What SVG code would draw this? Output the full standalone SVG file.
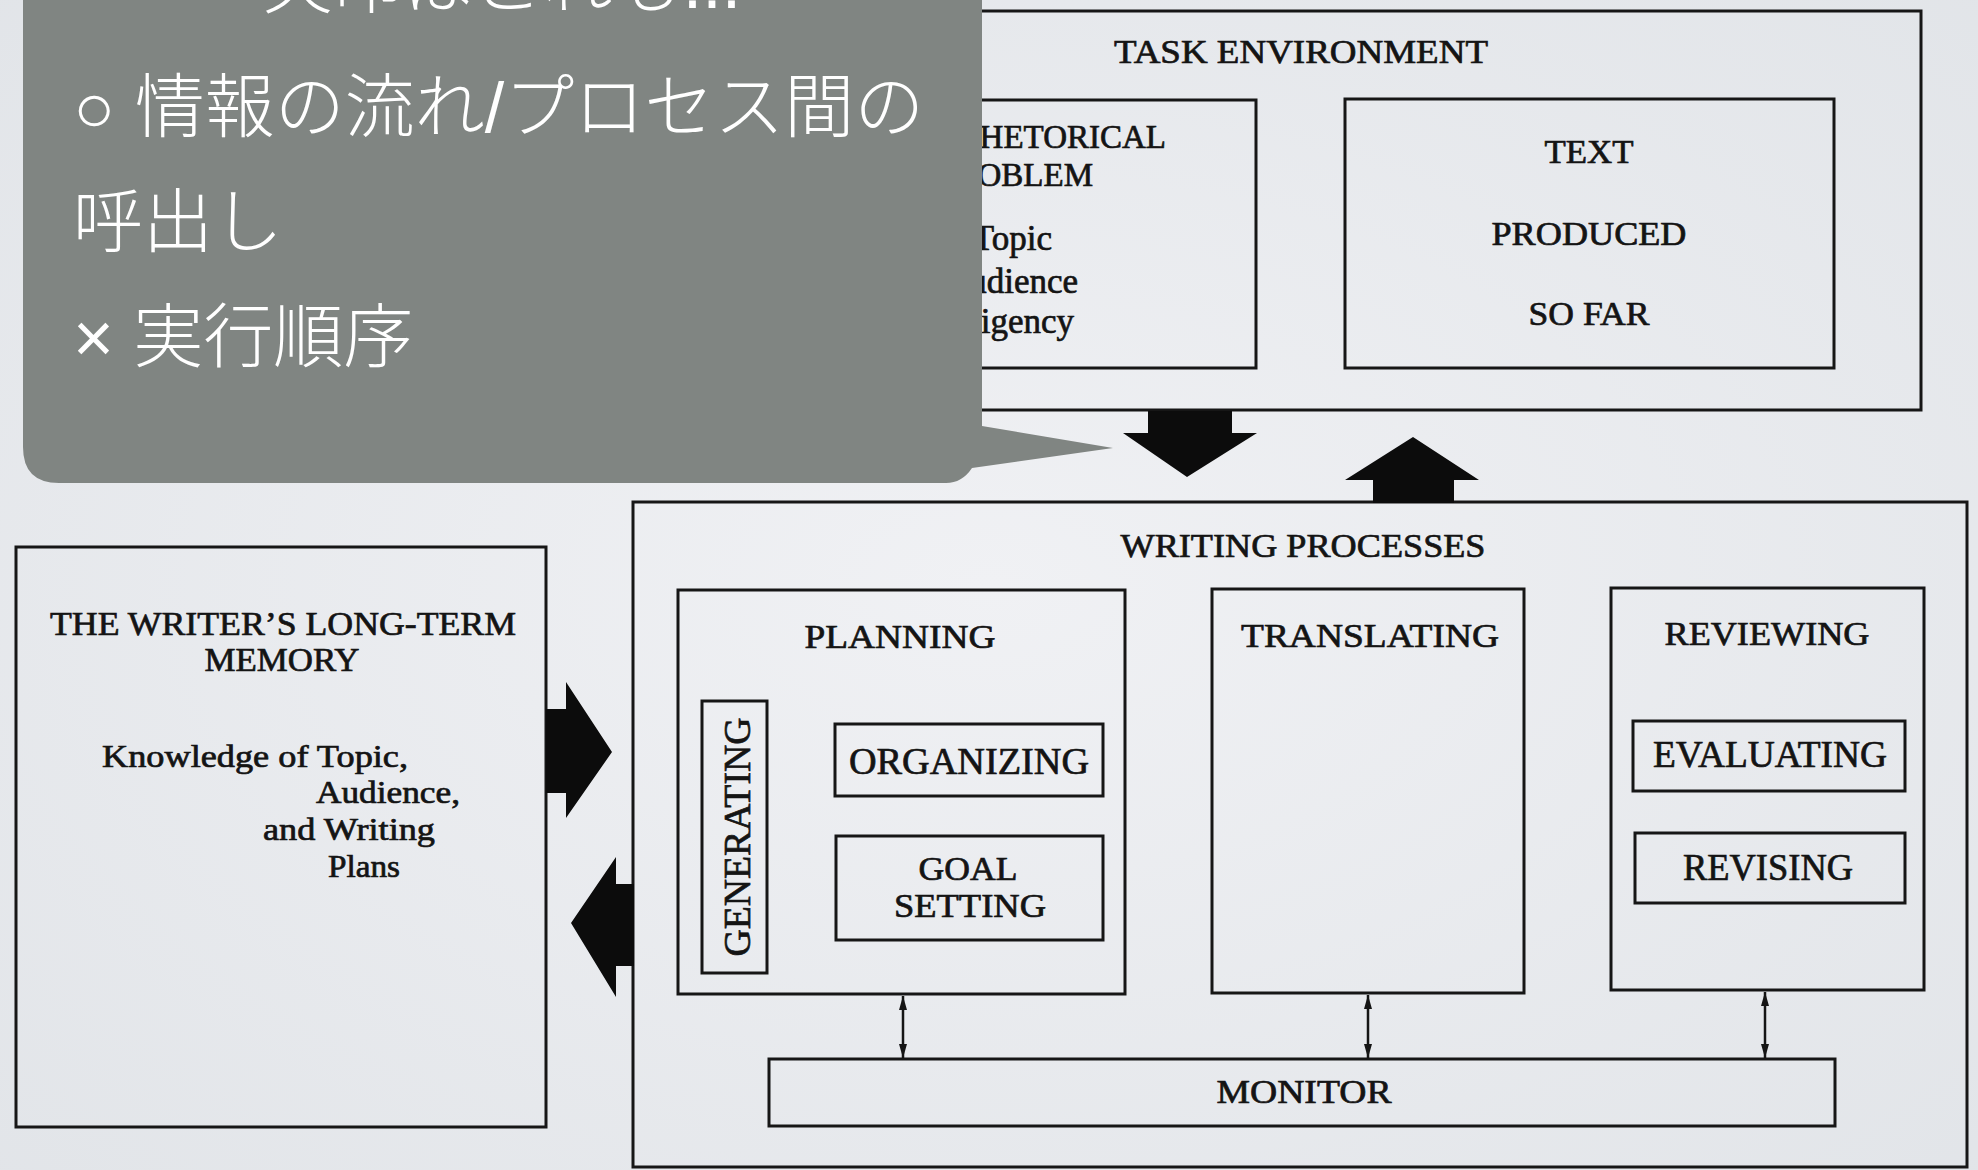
<svg xmlns="http://www.w3.org/2000/svg" width="1978" height="1170" viewBox="0 0 1978 1170">
  <defs>
    <radialGradient id="bg" cx="50%" cy="50%" r="75%">
      <stop offset="0" stop-color="#f0f1f4"/>
      <stop offset="1" stop-color="#e1e4e8"/>
    </radialGradient>
    <marker id="ah" viewBox="0 0 14 8" refX="14" refY="4" markerWidth="14" markerHeight="8" markerUnits="userSpaceOnUse" orient="auto-start-reverse">
      <path d="M0,0 L14,4 L0,8 z" fill="#151515"/>
    </marker>
    <style>
      .box { fill: none; stroke: #161616; stroke-width: 3; }
      .t { font-family: "Liberation Serif", "DejaVu Serif", serif; fill: #141414; stroke: #141414; stroke-width: 0.7; }
      .cap { font-size: 34px; }
      .lab { font-size: 37px; }
      .low { font-size: 31px; }
      .mid { text-anchor: middle; }
      .end { text-anchor: end; }
      .big { fill: #0c0c0c; }
      .link { stroke: #151515; stroke-width: 2.5; fill: none; }
      .jp { font-family: "Liberation Sans", "Noto Sans CJK JP", sans-serif; font-weight: 300; fill: #ffffff; font-size: 70px; }
    </style>
  </defs>

  <rect x="0" y="0" width="1978" height="1170" fill="url(#bg)"/>

  <!-- Task environment -->
  <g id="task-environment">
    <rect class="box" x="633" y="11" width="1288" height="399"/>
    <text class="t cap mid" x="1301" y="63" textLength="374" lengthAdjust="spacingAndGlyphs">TASK ENVIRONMENT</text>
  </g>
  <g id="rhetorical-problem">
    <rect class="box" x="700" y="100" width="556" height="268"/>
    <text class="t end" x="1166" y="148" font-size="33">RHETORICAL</text>
    <text class="t end" x="1093" y="186" font-size="33">PROBLEM</text>
    <text class="t end" x="1052" y="250" font-size="35">Topic</text>
    <text class="t end" x="1078" y="293" font-size="35">Audience</text>
    <text class="t end" x="1074" y="333" font-size="35">Exigency</text>
  </g>
  <g id="text-produced">
    <rect class="box" x="1345" y="99" width="489" height="269"/>
    <text class="t cap mid" x="1589" y="163" textLength="89" lengthAdjust="spacingAndGlyphs">TEXT</text>
    <text class="t cap mid" x="1589" y="245" textLength="195" lengthAdjust="spacingAndGlyphs">PRODUCED</text>
    <text class="t cap mid" x="1589" y="325" textLength="121" lengthAdjust="spacingAndGlyphs">SO FAR</text>
  </g>

  <!-- Long-term memory -->
  <g id="long-term-memory">
    <rect class="box" x="16" y="547" width="530" height="580"/>
    <text class="t cap mid" x="283" y="635" textLength="466" lengthAdjust="spacingAndGlyphs">THE WRITER’S LONG-TERM</text>
    <text class="t cap mid" x="282" y="671" textLength="155" lengthAdjust="spacingAndGlyphs">MEMORY</text>
    <text class="t low" x="102" y="767" textLength="306" lengthAdjust="spacingAndGlyphs">Knowledge of Topic,</text>
    <text class="t low" x="316" y="803" textLength="144" lengthAdjust="spacingAndGlyphs">Audience,</text>
    <text class="t low" x="263" y="840" textLength="172" lengthAdjust="spacingAndGlyphs">and Writing</text>
    <text class="t low" x="328" y="877" textLength="72" lengthAdjust="spacingAndGlyphs">Plans</text>
  </g>

  <!-- Writing processes -->
  <g id="writing-processes">
    <rect class="box" x="633" y="502" width="1334" height="665"/>
    <text class="t cap mid" x="1303" y="557" textLength="365" lengthAdjust="spacingAndGlyphs">WRITING PROCESSES</text>
  </g>
  <g id="planning">
    <rect class="box" x="678" y="590" width="447" height="404"/>
    <text class="t cap mid" x="900" y="648" textLength="191" lengthAdjust="spacingAndGlyphs">PLANNING</text>
  </g>
  <g id="generating">
    <rect class="box" x="702" y="701" width="65" height="272"/>
    <text class="t lab mid" transform="translate(750,837) rotate(-90)" x="0" y="0" textLength="239" lengthAdjust="spacingAndGlyphs">GENERATING</text>
  </g>
  <g id="organizing">
    <rect class="box" x="835" y="724" width="268" height="72"/>
    <text class="t lab mid" x="969" y="774" textLength="240" lengthAdjust="spacingAndGlyphs">ORGANIZING</text>
  </g>
  <g id="goal-setting">
    <rect class="box" x="836" y="836" width="267" height="104"/>
    <text class="t cap mid" x="968" y="880" textLength="99" lengthAdjust="spacingAndGlyphs">GOAL</text>
    <text class="t cap mid" x="970" y="917" textLength="152" lengthAdjust="spacingAndGlyphs">SETTING</text>
  </g>
  <g id="translating">
    <rect class="box" x="1212" y="589" width="312" height="404"/>
    <text class="t cap mid" x="1370" y="647" textLength="258" lengthAdjust="spacingAndGlyphs">TRANSLATING</text>
  </g>
  <g id="reviewing">
    <rect class="box" x="1611" y="588" width="313" height="402"/>
    <text class="t cap mid" x="1767" y="645" textLength="205" lengthAdjust="spacingAndGlyphs">REVIEWING</text>
  </g>
  <g id="evaluating">
    <rect class="box" x="1633" y="721" width="272" height="70"/>
    <text class="t lab mid" x="1770" y="767" textLength="234" lengthAdjust="spacingAndGlyphs">EVALUATING</text>
  </g>
  <g id="revising">
    <rect class="box" x="1635" y="833" width="270" height="70"/>
    <text class="t lab mid" x="1768" y="880" textLength="170" lengthAdjust="spacingAndGlyphs">REVISING</text>
  </g>
  <g id="monitor">
    <rect class="box" x="769" y="1059" width="1066" height="67"/>
    <text class="t cap mid" x="1304" y="1103" textLength="175" lengthAdjust="spacingAndGlyphs">MONITOR</text>
  </g>

  <!-- Connectors -->
  <g id="connectors">
    <polygon class="big" points="546,709 566,709 566,682 612,752 566,818 566,793 546,793"/>
    <polygon class="big" points="634,884 616,884 616,857 571,923 616,997 616,966 634,966"/>
    <polygon class="big" points="1148,411 1232,411 1232,433 1257,433 1187,477 1123,433 1148,433"/>
    <polygon class="big" points="1373,503 1454,503 1454,480 1479,480 1413,437 1345,480 1373,480"/>
    <line class="link" x1="903" y1="996" x2="903" y2="1058" marker-start="url(#ah)" marker-end="url(#ah)"/>
    <line class="link" x1="1368" y1="995" x2="1368" y2="1058" marker-start="url(#ah)" marker-end="url(#ah)"/>
    <line class="link" x1="1765" y1="992" x2="1765" y2="1058" marker-start="url(#ah)" marker-end="url(#ah)"/>
  </g>

  <!-- Callout -->
  <g id="callout">
    <path d="M23,-40 L982,-40 L982,426 L1113,448 L972,468 Q962,483 946,483 L59,483 Q23,483 23,447 Z" fill="#808582"/>
    <text class="jp" x="502" y="8" text-anchor="middle">矢印はこれも...</text>
    <text class="jp" x="73" y="132">○ 情報の流れ/プロセス間の</text>
    <text class="jp" x="73" y="247">呼出し</text>
    <text class="jp" x="73" y="362">× 実行順序</text>
  </g>
</svg>
